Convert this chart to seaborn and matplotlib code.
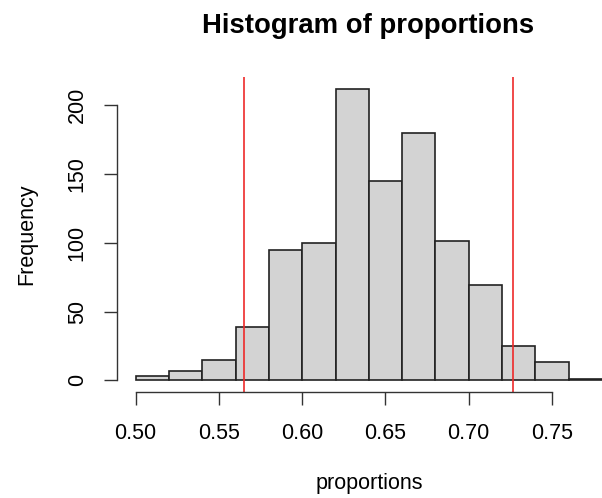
import numpy as np
import matplotlib
matplotlib.use("Agg")
import matplotlib.pyplot as plt
import seaborn as sns

# bin edges and counts
bin_edges = [0.50, 0.52, 0.54, 0.56, 0.58, 0.60, 0.62, 0.64, 0.66, 0.68, 0.70, 0.72, 0.74, 0.76, 0.78]
counts = [3, 7, 15, 39, 95, 100, 212, 145, 180, 101, 69, 25, 13, 1]
# red reference lines (interval bounds)
cutoffs = [0.565, 0.7265]

x_ticks = [0.50, 0.55, 0.60, 0.65, 0.70, 0.75]
y_ticks = [0, 50, 100, 150, 200]

sns.set_style("white")
plt.rcParams['font.family'] = ['Liberation Sans', 'DejaVu Sans']
plt.rcParams['text.color'] = 'black'
plt.rcParams['axes.labelcolor'] = 'black'
plt.rcParams['xtick.color'] = '#333333'
plt.rcParams['ytick.color'] = '#333333'

centers = [(a + b) / 2 for a, b in zip(bin_edges[:-1], bin_edges[1:])]

fig = plt.figure(figsize=(6.02, 4.98), dpi=100)
ax = fig.add_axes([0.1944, 0.2129, 0.8365, 0.6325])

sns.histplot(x=centers, weights=counts, bins=bin_edges, ax=ax,
             color="#D3D3D3", edgecolor="#222222", linewidth=1.2, alpha=1)

for c in cutoffs:
    ax.axvline(c, color="#EE2A2A", linewidth=1.2)

ax.set_xlim(0.4888, 0.7912)
ax.set_ylim(-8.5, 220.5)

ax.spines['top'].set_visible(False)
ax.spines['right'].set_visible(False)
ax.spines['left'].set_bounds(0, 200)
ax.spines['bottom'].set_bounds(0.50, 0.75)
for s in ['left', 'bottom']:
    ax.spines[s].set_color("#333333")
    ax.spines[s].set_linewidth(1.0)

ax.set_xticks(x_ticks)
ax.set_xticklabels([f"{t:.2f}" for t in x_ticks])
ax.set_yticks(y_ticks)
ax.set_yticklabels([str(t) for t in y_ticks], rotation=90, va='center')
ax.tick_params(axis='both', direction='out', length=9.5, width=1.0,
               bottom=True, left=True, labelsize=15.5, labelcolor='black')
ax.tick_params(axis='x', pad=12.5)
ax.tick_params(axis='y', pad=11.5)

ax.set_xlabel("proportions", fontsize=15.5, labelpad=21)
ax.set_ylabel("Frequency", fontsize=15.5, labelpad=21)
fig.text(0.612, 0.948, "Histogram of proportions", ha='center', va='center',
         fontsize=19.8, fontweight='bold', color='black')

fig.savefig("out.png", dpi=100)
